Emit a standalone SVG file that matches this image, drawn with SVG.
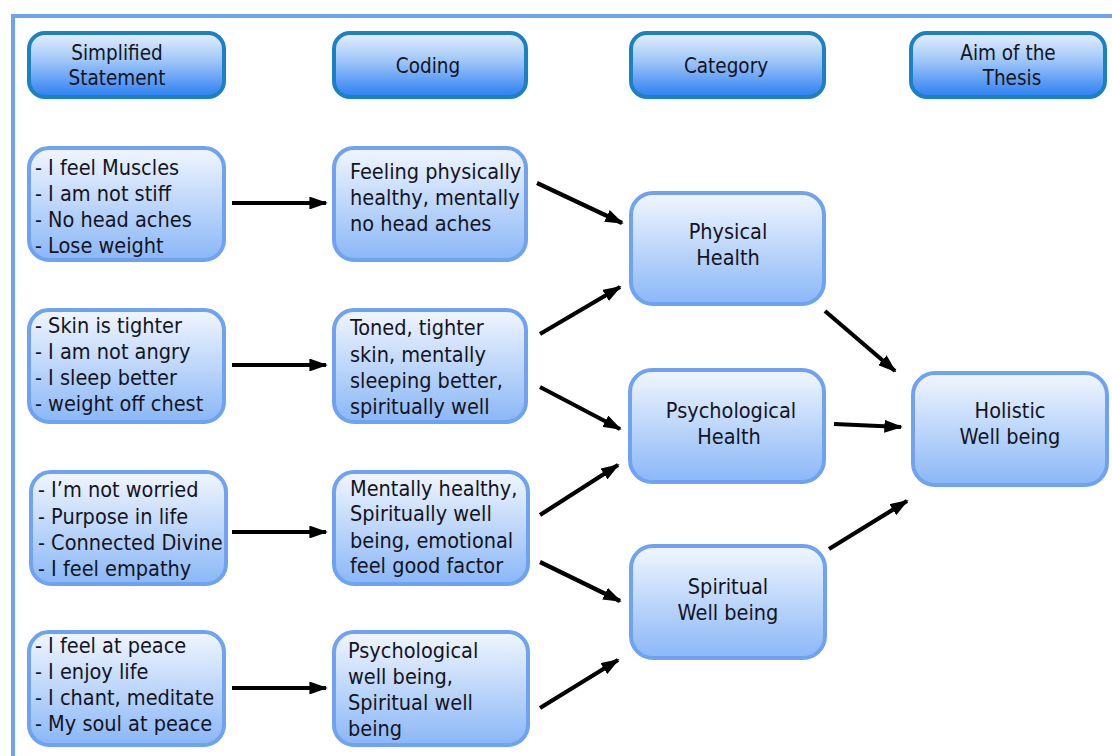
<svg xmlns="http://www.w3.org/2000/svg" width="1112" height="756" viewBox="0 0 1112 756">
<defs>
<linearGradient id="gHead" x1="0" y1="0" x2="0" y2="1">
<stop offset="0" stop-color="#e6f0fd"/>
<stop offset="0.45" stop-color="#9cc4f8"/>
<stop offset="1" stop-color="#2c7ef2"/>
</linearGradient>
<linearGradient id="gNode" x1="0" y1="0" x2="0" y2="1">
<stop offset="0" stop-color="#f1f6fe"/>
<stop offset="1" stop-color="#8ab7f7"/>
</linearGradient>
<marker id="ah" viewBox="0 0 10 7" refX="9" refY="3.5" markerWidth="4.4" markerHeight="3.08" orient="auto" markerUnits="strokeWidth">
<path d="M0,0 L10,3.5 L0,7 z" fill="#000"/>
</marker>
</defs>
<style>
.head{fill:url(#gHead);stroke:#1a82c4;stroke-width:4}
.node{fill:url(#gNode);stroke:#6fa2f2;stroke-width:4}
text{font-family:"DejaVu Sans Condensed","DejaVu Sans",sans-serif;font-size:21.5px;fill:#141420}
.c{text-anchor:middle}
.hd{font-size:20.5px}
.conn line{stroke:#000;stroke-width:4.2;marker-end:url(#ah)}
</style>
<rect x="0" y="0" width="1112" height="756" fill="#fff"/>
<path d="M13,760 L13,16 L1120,16" fill="none" stroke="#6fa2f2" stroke-width="4"/>

<g id="h-simplified"><rect class="head" x="29" y="33" width="195" height="64" rx="16"/>
<text class="c hd" x="117" y="60">Simplified</text><text class="c hd" x="117" y="85">Statement</text></g>
<g id="h-coding"><rect class="head" x="334" y="33" width="192" height="64" rx="16"/>
<text class="c hd" x="428" y="73">Coding</text></g>
<g id="h-category"><rect class="head" x="631" y="33" width="193" height="64" rx="16"/>
<text class="c hd" x="726" y="73">Category</text></g>
<g id="h-aim"><rect class="head" x="911" y="33" width="194" height="64" rx="16"/>
<text class="c hd" x="1008" y="60">Aim of the</text><text class="c hd" x="1012" y="85">Thesis</text></g>

<g id="s1"><rect class="node" x="29" y="148" width="195" height="112" rx="20"/>
<text x="35" y="175">- I feel Muscles</text><text x="35" y="201">- I am not stiff</text><text x="35" y="227">- No head aches</text><text x="35" y="253">- Lose weight</text></g>
<g id="s2"><rect class="node" x="29" y="310" width="195" height="112" rx="20"/>
<text x="35" y="333">- Skin is tighter</text><text x="35" y="359">- I am not angry</text><text x="35" y="385">- I sleep better</text><text x="35" y="411">- weight off chest</text></g>
<g id="s3"><rect class="node" x="31" y="472" width="195" height="112" rx="20"/>
<text x="38" y="497">- I’m not worried</text><text x="38" y="524">- Purpose in life</text><text x="38" y="550">- Connected Divine</text><text x="38" y="576">- I feel empathy</text></g>
<g id="s4"><rect class="node" x="29" y="632" width="195" height="113" rx="20"/>
<text x="35" y="653">- I feel at peace</text><text x="35" y="679">- I enjoy life</text><text x="35" y="705">- I chant, meditate</text><text x="35" y="731">- My soul at peace</text></g>

<g id="c1"><rect class="node" x="334" y="148" width="192" height="112" rx="20"/>
<text x="350" y="179">Feeling physically</text><text x="350" y="205">healthy, mentally</text><text x="350" y="231">no head aches</text></g>
<g id="c2"><rect class="node" x="334" y="310" width="192" height="112" rx="20"/>
<text x="350" y="335">Toned, tighter</text><text x="350" y="362">skin, mentally</text><text x="350" y="388">sleeping better,</text><text x="350" y="414">spiritually well</text></g>
<g id="c3"><rect class="node" x="334" y="472" width="194" height="112" rx="20"/>
<text x="350" y="496">Mentally healthy,</text><text x="350" y="521">Spiritually well</text><text x="350" y="548">being, emotional</text><text x="350" y="573">feel good factor</text></g>
<g id="c4"><rect class="node" x="334" y="632" width="194" height="113" rx="20"/>
<text x="348" y="658">Psychological</text><text x="348" y="684">well being,</text><text x="348" y="710">Spiritual well</text><text x="348" y="736">being</text></g>

<g id="physical"><rect class="node" x="631" y="193" width="193" height="111" rx="22"/>
<text class="c" x="728" y="239">Physical</text><text class="c" x="728" y="265">Health</text></g>
<g id="psychological"><rect class="node" x="630" y="370" width="194" height="112" rx="22"/>
<text class="c" x="731" y="418">Psychological</text><text class="c" x="729" y="444">Health</text></g>
<g id="spiritual"><rect class="node" x="631" y="546" width="194" height="112" rx="22"/>
<text class="c" x="728" y="594">Spiritual</text><text class="c" x="728" y="620">Well being</text></g>
<g id="holistic"><rect class="node" x="913" y="373" width="194" height="112" rx="22"/>
<text class="c" x="1010" y="418">Holistic</text><text class="c" x="1010" y="444">Well being</text></g>

<g id="connectors" class="conn">
<line x1="232" y1="203" x2="326" y2="203"/>
<line x1="232" y1="365" x2="326" y2="365"/>
<line x1="232" y1="532" x2="326" y2="532"/>
<line x1="232" y1="688" x2="326" y2="688"/>
<line x1="537" y1="183" x2="622" y2="223"/>
<line x1="540" y1="334" x2="620" y2="287"/>
<line x1="540" y1="387" x2="620" y2="429"/>
<line x1="540" y1="515" x2="618" y2="465"/>
<line x1="540" y1="562" x2="620" y2="601"/>
<line x1="540" y1="708" x2="618" y2="660"/>
<line x1="825" y1="311" x2="895" y2="371"/>
<line x1="834" y1="424" x2="901" y2="427"/>
<line x1="829" y1="549" x2="907" y2="501"/>
</g>
</svg>
